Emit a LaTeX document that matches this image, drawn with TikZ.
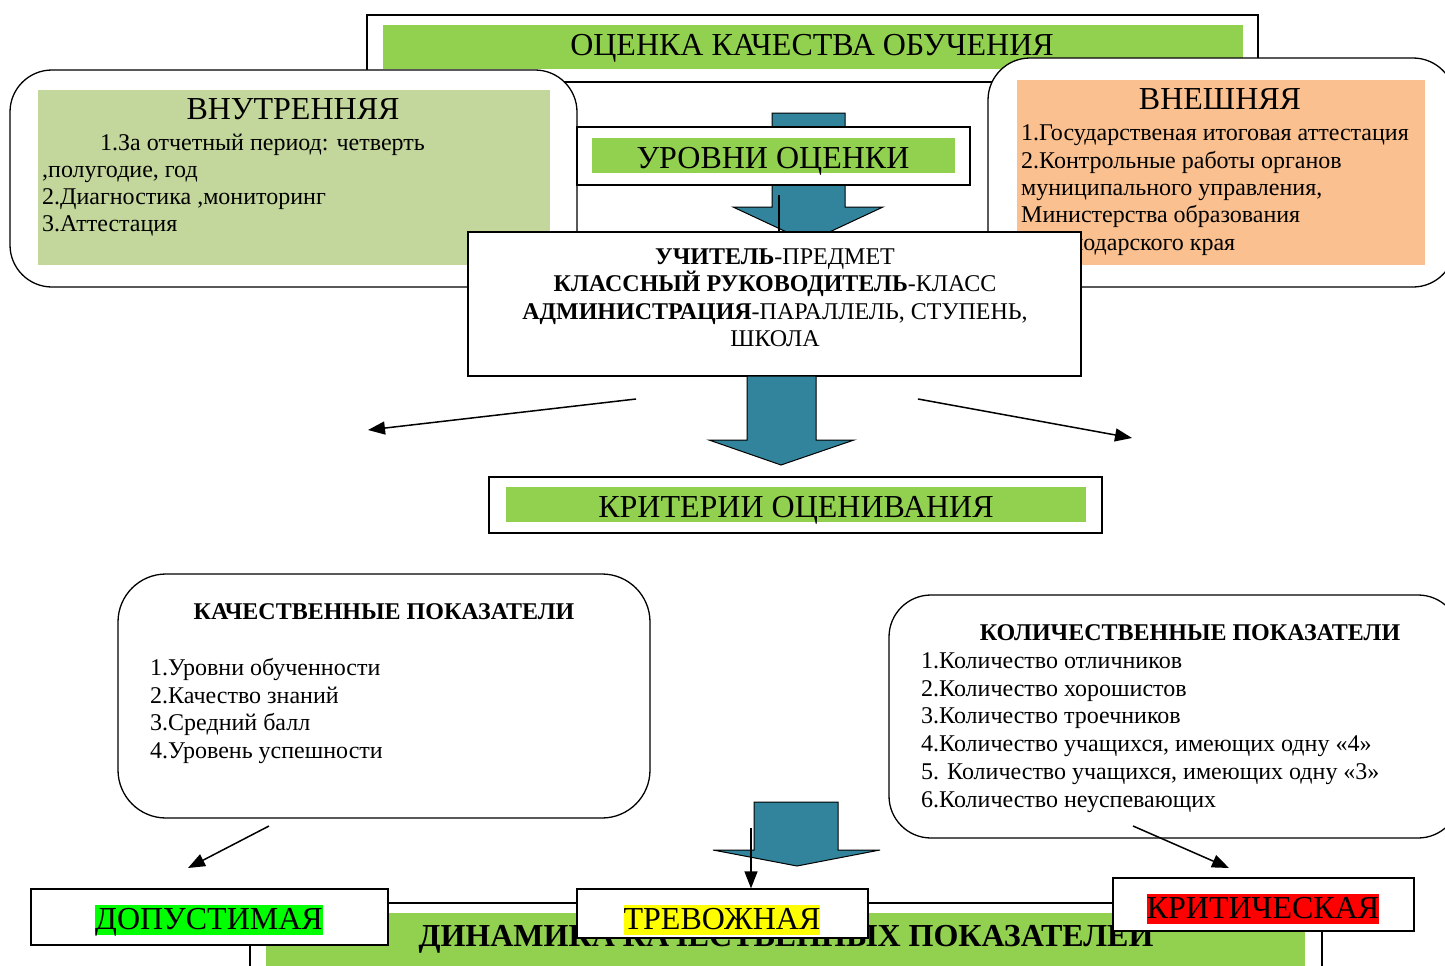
\documentclass[tikz,border=0pt]{standalone}
\usepackage{fontspec}
\setmainfont{Liberation Serif}
\usetikzlibrary{arrows.meta}
\definecolor{bandgreen}{HTML}{92D050}
\definecolor{lightgreen}{HTML}{C3D69B}
\definecolor{peach}{HTML}{FAC090}
\definecolor{arrowteal}{HTML}{31849B}
\definecolor{hlgreen}{HTML}{00FF00}
\definecolor{hlyellow}{HTML}{FFFF00}
\definecolor{hlred}{HTML}{FF0000}
\tikzset{
  fr/.style={draw, line width=1.3pt, fill=white, inner sep=0pt},
  rbox/.style={draw, line width=1.3pt, fill=white, inner sep=0pt, rounded corners=42pt},
  band/.style={fill=#1, inner sep=0pt},
  ttl/.style={font=\fontsize{32}{36}\selectfont, inner sep=0pt, anchor=base},
  body/.style={font=\fontsize{24}{27}\selectfont, inner sep=0pt, anchor=base west},
  cbody/.style={font=\fontsize{24}{27}\selectfont, inner sep=0pt, anchor=base},
  hl/.style={fill=#1, inner xsep=0pt, inner ysep=0pt, text height=24pt, text depth=6pt, anchor=base, font=\fontsize{32}{36}\selectfont},
  thin/.style={line width=1.5pt, -{Triangle[length=17pt,width=13pt]}},
  blk/.style={fill=arrowteal, draw=black, line width=1pt}
}
\begin{document}
\begin{tikzpicture}[x=1pt,y=-1pt]
\useasboundingbox (0,0) rectangle (1445,966);
\clip (0,0) rectangle (1445,966);
% top title
\node[fr, minimum width=891pt, minimum height=67pt] (tf) at (812.5,48.5) {};
\node[band=bandgreen, minimum width=860pt, minimum height=44pt] (tb) at (813,47) {};
\node[ttl] (tt) at (812,56) {ОЦЕНКА КАЧЕСТВА ОБУЧЕНИЯ};
% internal
\node[rbox, minimum width=567pt, minimum height=217pt] (vn) at (293.5,178.5) {};
\node[band=lightgreen, minimum width=512pt, minimum height=175pt] (vnf) at (294,177.5) {};
\node[ttl] (vnt) at (293,119) {ВНУТРЕННЯЯ};
\node[body] (vn1) at (100,150) {1.За отчетный период: четверть};
\node[body] (vn2) at (42,177) {,полугодие, год};
\node[body] (vn3) at (42,204) {2.Диагностика ,мониторинг};
\node[body] (vn4) at (42,231) {3.Аттестация};
% external
\node[rbox, minimum width=467pt, minimum height=229pt] (vs) at (1221.5,172.5) {};
\node[band=peach, minimum width=408pt, minimum height=185pt] (vsf) at (1221,172.5) {};
\node[ttl] (vst) at (1220,109) {ВНЕШНЯЯ};
\node[body] (vs1) at (1021,140) {1.Государственая итоговая аттестация};
\node[body] (vs2) at (1021,168) {2.Контрольные работы органов};
\node[body] (vs3) at (1021,195) {муниципального управления,};
\node[body] (vs4) at (1021,222) {Министерства образования};
\node[body] (vs5) at (1021,250) {Краснодарского края};
% top block arrow
\draw[blk] (772,113) -- (845,113) -- (845,207) -- (883,207) -- (808,242) -- (733,207) -- (772,207) -- cycle;
% levels
\node[fr, minimum width=393pt, minimum height=58pt] (ur) at (773.5,156) {};
\node[band=bandgreen, minimum width=363pt, minimum height=35pt] (urb) at (773.5,155.5) {};
\node[ttl] (urt) at (773,168) {УРОВНИ ОЦЕНКИ};
\coordinate (ln1) at (779,195);
% center box
\node[fr, minimum width=613pt, minimum height=144pt] (cb) at (774.5,304) {};
\draw[line width=1.3pt] (ln1) -- (ln1 |- cb.north);
\node[cbody] (cb1) at (775,264) {\textbf{УЧИТЕЛЬ}-ПРЕДМЕТ};
\node[cbody] (cb2) at (775,291) {\textbf{КЛАССНЫЙ РУКОВОДИТЕЛЬ}-КЛАСС};
\node[cbody] (cb3) at (775,319) {\textbf{АДМИНИСТРАЦИЯ}-ПАРАЛЛЕЛЬ, СТУПЕНЬ,};
\node[cbody] (cb4) at (775,346) {ШКОЛА};
% middle block arrow
\draw[blk] (747,376) -- (816,376) -- (816,440) -- (854,440) -- (781,465) -- (709,440) -- (747,440) -- cycle;
% side arrows
\coordinate (la1) at (636,399); \coordinate (la2) at (368,430);
\coordinate (ra1) at (918,399); \coordinate (ra2) at (1132,438);
\draw[thin] (la1) -- (la2);
\draw[thin] (ra1) -- (ra2);
% criteria
\node[fr, minimum width=613pt, minimum height=56pt] (kr) at (795.5,505) {};
\node[band=bandgreen, minimum width=580pt, minimum height=35pt] (krb) at (796,504.5) {};
\node[ttl] (krt) at (796,517) {КРИТЕРИИ ОЦЕНИВАНИЯ};
% qualitative
\node[rbox, rounded corners=48pt, minimum width=532pt, minimum height=244pt] (kach) at (384,696) {};
\node[cbody, font=\fontsize{24}{27}\selectfont\bfseries] (kacht) at (384,619) {КАЧЕСТВЕННЫЕ ПОКАЗАТЕЛИ};
\node[body] (ka1) at (150,675) {1.Уровни обученности};
\node[body] (ka2) at (150,703) {2.Качество знаний};
\node[body] (ka3) at (150,730) {3.Средний балл};
\node[body] (ka4) at (150,758) {4.Уровень успешности};
% quantitative
\node[rbox, minimum width=571pt, minimum height=243pt] (kol) at (1174.5,716.5) {};
\node[cbody, font=\fontsize{24}{27}\selectfont\bfseries] (kolt) at (1190,640) {КОЛИЧЕСТВЕННЫЕ ПОКАЗАТЕЛИ};
\node[body] (ko1) at (921,668) {1.Количество отличников};
\node[body] (ko2) at (921,696) {2.Количество хорошистов};
\node[body] (ko3) at (921,723) {3.Количество троечников};
\node[body] (ko4) at (921,751) {4.Количество учащихся, имеющих одну «4»};
\node[body] (ko5) at (921,779) {5. Количество учащихся, имеющих одну «3»};
\node[body] (ko6) at (921,807) {6.Количество неуспевающих};
% dynamics
\node[fr, minimum width=1072pt, minimum height=87pt] (din) at (786,946.5) {};
\node[band=bandgreen, minimum width=1039pt, minimum height=77pt] (dinb) at (785.5,951.5) {};
\node[inner sep=0pt, anchor=base, font=\fontsize{32}{36}\selectfont\bfseries] (dint) at (786,946) {ДИНАМИКА КАЧЕСТВЕННЫХ ПОКАЗАТЕЛЕЙ};
% bottom block arrow
\draw[blk] (754,802) -- (838,802) -- (838,850) -- (880,850) -- (797,866) -- (713,850) -- (754,850) -- cycle;
% level boxes
\node[fr, minimum width=357pt, minimum height=56pt] (dop) at (209.5,917) {};
\node[fr, minimum width=291pt, minimum height=49pt] (trev) at (722.5,913.5) {};
\node[fr, minimum width=301pt, minimum height=53pt] (krit) at (1263.5,904.5) {};
\node[hl=hlgreen] (dopt) at (209,929) {ДОПУСТИМАЯ};
\node[hl=hlyellow] (trevt) at (722,929) {ТРЕВОЖНАЯ};
\node[hl=hlred] (kritt) at (1263,918) {КРИТИЧЕСКАЯ};
% arrows to levels
\coordinate (da1) at (269,826); \coordinate (da2) at (188,868);
\coordinate (ka) at (1133,826); \coordinate (kb) at (1229,868);
\coordinate (ta1) at (751,828);
\draw[thin] (da1) -- (da2);
\draw[thin] (ka) -- (kb);
\draw[thin] (ta1) -- (ta1 |- trev.north);
\end{tikzpicture}
\end{document}
